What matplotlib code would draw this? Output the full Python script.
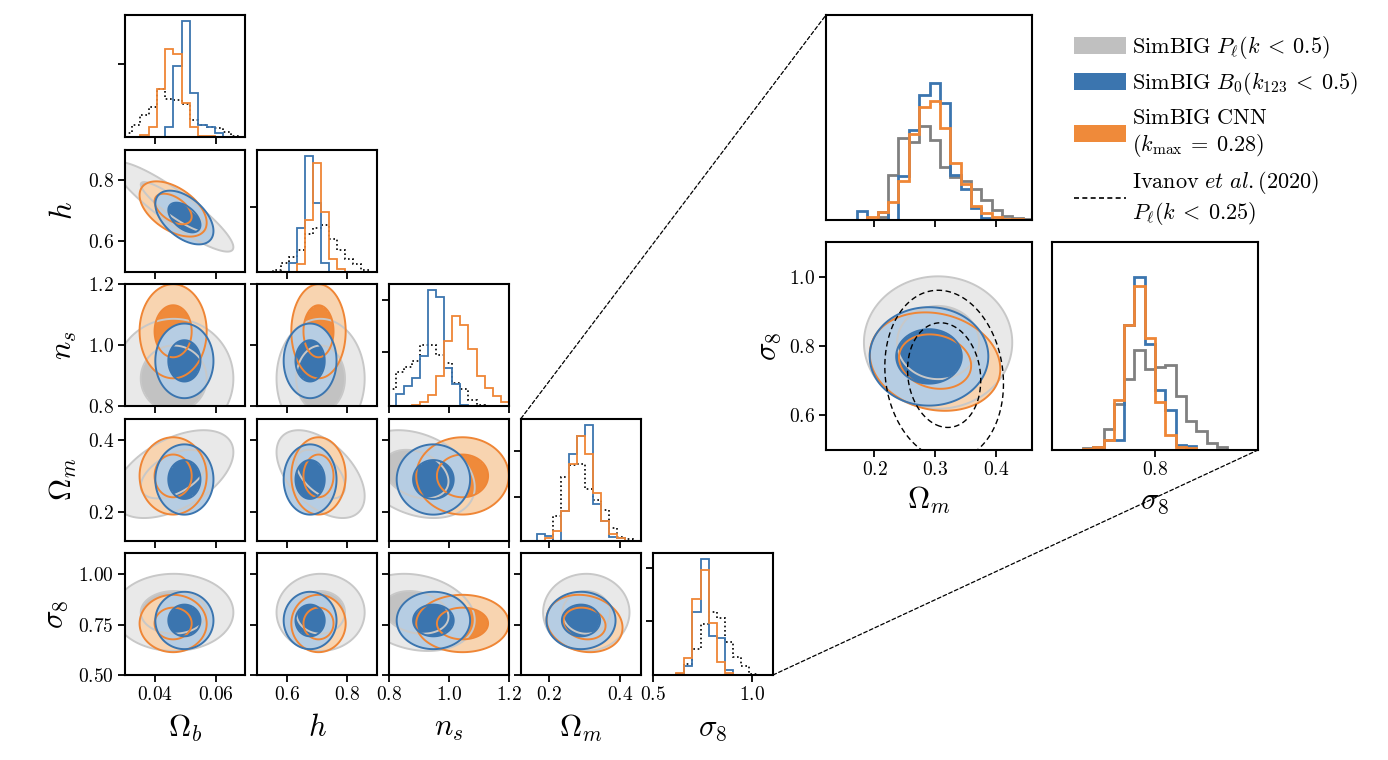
import numpy as np
import matplotlib
matplotlib.use("Agg")
import matplotlib.pyplot as plt
from matplotlib.patches import Patch, ConnectionPatch
from matplotlib.lines import Line2D

plt.rcParams['mathtext.fontset'] = 'cm'
plt.rcParams['font.family'] = ['DejaVu Serif']

# ---------------- data ----------------
param_labels = [r'$\Omega_b$', r'$h$', r'$n_s$', r'$\Omega_m$', r'$\sigma_8$']
param_ranges = [(0.03, 0.0694), (0.5, 0.9), (0.8, 1.2), (0.12, 0.46), (0.5, 1.104)]
x_ticks = [[0.04, 0.06], [0.6, 0.8], [0.8, 1.0, 1.2], [0.2, 0.4], [0.5, 1.0]]
x_ticklabels = [['0.04', '0.06'], ['0.6', '0.8'], ['0.8', '1.0', '1.2'], ['0.2', '0.4'], ['0.5', '1.0']]
y_ticks = [None, [0.6, 0.8], [0.8, 1.0, 1.2], [0.2, 0.4], [0.5, 0.75, 1.0]]
y_ticklabels = [None, ['0.6', '0.8'], ['0.8', '1.0', '1.2'], ['0.2', '0.4'], ['0.50', '0.75', '1.00']]
hist_yticks = [[0.60], [0.53], [0.44, 0.87], [0.36, 0.73], [0.44, 0.88]]

# 2D posterior summaries (mean, width, correlations)
pl_mean = [0.046, 0.712, 0.89, 0.305, 0.81]
pl_sigma = [0.0080, 0.060, 0.080, 0.050, 0.078]
pl_corr = {(0, 1): -0.9, (0, 3): 0.5, (1, 3): -0.5, (2, 3): -0.3, (2, 4): -0.2}
b0_mean = [0.0495, 0.677, 0.948, 0.290, 0.770]
b0_sigma = [0.0039, 0.036, 0.050, 0.040, 0.058]
b0_corr = {(0, 1): -0.5}
cnn_mean = [0.0458, 0.705, 1.045, 0.300, 0.755]
cnn_sigma = [0.0045, 0.037, 0.063, 0.044, 0.058]
cnn_corr = {(0, 1): -0.5, (3, 4): -0.15}
ivanov_mean = [0.315, 0.716]      # (Omega_m, sigma_8)
ivanov_sigma = [0.040, 0.100]
ivanov_corr = -0.1
simbig_levels = [0.60, 0.95]
ivanov_levels = [0.68, 0.95]

# 1D histograms of the corner (heights relative to panel height)
hist_start = [0.0296, 0.552, 0.797, 0.1644, 0.617]
hist_width = [0.00272, 0.0268, 0.0268, 0.0227, 0.0408]
b0_hist = [
    [0, 0, 0, 0, 0, 0.08, 0.58, 0.95, 0.36, 0.10, 0.08, 0.03, 0, 0, 0],
    [0, 0, 0.07, 0.36, 0.95, 0.56, 0.07, 0, 0, 0, 0, 0, 0],
    [0, 0.10, 0.16, 0.23, 0.41, 0.95, 0.89, 0.31, 0.18, 0.01, 0, 0, 0, 0, 0],
    [0.05, 0.04, 0, 0.24, 0.71, 0.86, 0.95, 0.30, 0.16, 0.03, 0.02, 0, 0],
    [0.01, 0.076, 0.52, 0.95, 0.32, 0.30, 0.04, 0, 0, 0, 0, 0],
]
cnn_hist = [
    [0, 0, 0.02, 0.08, 0.39, 0.72, 0.68, 0.28, 0.08, 0.01, 0.01, 0, 0, 0, 0],
    [0, 0, 0, 0.06, 0.42, 0.89, 0.49, 0.10, 0.02, 0, 0, 0, 0],
    [0, 0, 0, 0.005, 0.03, 0.09, 0.25, 0.53, 0.74, 0.66, 0.47, 0.25, 0.15, 0.08, 0.03],
    [0, 0.02, 0.08, 0.24, 0.63, 0.86, 0.71, 0.39, 0.16, 0.05, 0.02, 0, 0],
    [0.02, 0.14, 0.62, 0.86, 0.43, 0.11, 0.02, 0, 0, 0, 0, 0],
]
ivanov_hist = [
    [0.03, 0.10, 0.18, 0.25, 0.39, 0.31, 0.30, 0.27, 0.14, 0.10, 0.08, 0.07, 0.04, 0.01, 0],
    [0.01, 0.07, 0.12, 0.18, 0.31, 0.36, 0.38, 0.27, 0.18, 0.10, 0.06, 0.01, 0],
    [0.14, 0.28, 0.32, 0.37, 0.50, 0.50, 0.42, 0.35, 0.19, 0.14, 0.05, 0.01, 0, 0, 0],
    [0, 0, 0.20, 0.52, 0.62, 0.63, 0.42, 0.33, 0.25, 0.10, 0.03, 0.01, 0],
    [0.005, 0.09, 0.21, 0.42, 0.52, 0.47, 0.27, 0.15, 0.07, 0.01, 0, 0],
]

# zoomed-in histograms
inset_om_start, inset_om_width = 0.137, 0.0171
inset_om_b0 = [0, 0, 0.045, 0, 0.04, 0, 0.215, 0.44, 0.61, 0.67, 0.57, 0.22, 0.15, 0.06, 0.01, 0, 0, 0, 0]
inset_om_cnn = [0, 0.002, 0.002, 0.013, 0.037, 0.09, 0.19, 0.42, 0.55, 0.58, 0.45, 0.28, 0.175, 0.07, 0.034, 0.013, 0.005, 0.005, 0]
inset_om_pl = [0, 0, 0, 0, 0.013, 0.22, 0.40, 0.38, 0.46, 0.39, 0.26, 0.21, 0.19, 0.15, 0.10, 0.05, 0.018, 0.008, 0.005]
inset_s8_start, inset_s8_width = 0.56, 0.03
inset_s8_b0 = [0, 0, 0.013, 0.05, 0.05, 0.60, 0.83, 0.51, 0.29, 0.19, 0.024, 0.02, 0, 0, 0, 0, 0, 0]
inset_s8_cnn = [0, 0.003, 0.016, 0.05, 0.24, 0.60, 0.79, 0.54, 0.23, 0.07, 0.016, 0.008, 0, 0, 0, 0, 0, 0]
inset_s8_pl = [0, 0.008, 0.013, 0.10, 0.22, 0.34, 0.48, 0.39, 0.40, 0.41, 0.26, 0.14, 0.09, 0.035, 0.013, 0, 0, 0]

legend_labels = [
    r'$\mathrm{SimBIG}\ P_\ell(k\:<\:0.5)$',
    r'$\mathrm{SimBIG}\ B_0(k_{123}\:<\:0.5)$',
    r'$\mathrm{SimBIG\ CNN}$' + '\n' + r'$(k_\mathrm{max}\:=\:0.28)$',
    r'$\mathrm{Ivanov}\ \mathit{et\ al.}\mathrm{(2020)}$' + '\n' + r'$P_\ell(k\:<\:0.25)$',
]

# ---------------- style ----------------
C_BLUE = '#3b75af'
C_BLUE_L = '#b6cde3'
C_OR = '#ef8636'
C_OR_IN = '#ef8a3a'
C_OR_L = '#f8d4b0'
C_GR_IN = '#c2c2c2'
C_GR_L = '#e9e9e9'
C_GR_LINE = '#c8c8c8'
C_GR_HIST = '#808080'
TICK_FS = 14

W, H = 1388, 760
fig = plt.figure(figsize=(W / 100, H / 100), dpi=100)


def rect(x, y, w, h):
    return [x / W, 1 - (y + h) / H, w / W, h / H]


def style_axes(ax):
    for s in ax.spines.values():
        s.set_linewidth(1.5)
    ax.tick_params(direction='out', length=5, width=1.3, labelsize=TICK_FS, pad=3)


def d2_grid(mu, sig, rho, xlim, ylim, n=300):
    xs = np.linspace(xlim[0] - 0.6 * (xlim[1] - xlim[0]), xlim[1] + 0.6 * (xlim[1] - xlim[0]), n)
    ys = np.linspace(ylim[0] - 0.6 * (ylim[1] - ylim[0]), ylim[1] + 0.6 * (ylim[1] - ylim[0]), n)
    X, Y = np.meshgrid(xs, ys)
    u = (X - mu[0]) / sig[0]
    v = (Y - mu[1]) / sig[1]
    D2 = (u * u - 2 * rho * u * v + v * v) / (1 - rho * rho)
    return X, Y, D2


def mass_r2(levels):
    return [-2 * np.log(1 - p) for p in levels]


series = [
    (pl_mean, pl_sigma, pl_corr, C_GR_IN, C_GR_L, C_GR_LINE, C_GR_LINE),
    (cnn_mean, cnn_sigma, cnn_corr, C_OR_IN, C_OR_L, C_OR, C_OR),
    (b0_mean, b0_sigma, b0_corr, C_BLUE, C_BLUE_L, C_BLUE, C_BLUE),
]


def draw_2d(ax, i, j, xlim, ylim):
    r2 = mass_r2(simbig_levels)
    grids = []
    for mean, sig, corr, cin, cout, lin_in, lin_out in series:
        rho = corr.get((min(i, j), max(i, j)), 0.0)
        X, Y, D2 = d2_grid([mean[j], mean[i]], [sig[j], sig[i]], rho, xlim, ylim)
        ax.contourf(X, Y, D2, levels=[0, r2[0], r2[1]], colors=[cin, cout])
        grids.append((X, Y, D2, lin_in, lin_out))
    for X, Y, D2, lin_in, lin_out in grids:
        ax.contour(X, Y, D2, levels=r2, colors=[lin_in, lin_out], linewidths=1.4)
    ax.set_xlim(xlim)
    ax.set_ylim(ylim)


def edges_of(start, width, n):
    return start + width * np.arange(n + 1)


col_x = [125, 257, 389, 521, 653]
row_y = [15, 149.5, 284, 418.5, 553]
PW, PH = 120, 122

axes = {}
for i in range(5):
    for j in range(i + 1):
        ax = fig.add_axes(rect(col_x[j], row_y[i], PW, PH))
        style_axes(ax)
        axes[(i, j)] = ax
        if i == j:
            e = edges_of(hist_start[i], hist_width[i], len(b0_hist[i]))
            ax.stairs(ivanov_hist[i], e, color='k', lw=1.2, ls=(0, (1, 1.6)))
            ax.stairs(b0_hist[i], e, color=C_BLUE, lw=1.3)
            ax.stairs(cnn_hist[i], e, color=C_OR, lw=1.3)
            ax.set_xlim(param_ranges[i])
            ax.set_ylim(0, 1)
            ax.set_yticks(hist_yticks[i])
            ax.set_yticklabels([])
        else:
            draw_2d(ax, i, j, param_ranges[j], param_ranges[i])
            ax.set_yticks(y_ticks[i])
            if j == 0:
                ax.set_yticklabels(['$%s$' % t for t in y_ticklabels[i]])
                ax.set_ylabel(param_labels[i], fontsize=22, labelpad=6)
            else:
                ax.set_yticklabels([])
        ax.set_xticks(x_ticks[j])
        if i == 4:
            ax.set_xticklabels(['$%s$' % t for t in x_ticklabels[j]])
            ax.set_xlabel(param_labels[j], fontsize=22, labelpad=6)
        else:
            ax.set_xticklabels([])

fig.align_ylabels([axes[(i, 0)] for i in range(1, 5)])

# ---------------- zoomed panels ----------------
om_lim = (0.12, 0.46)
s8_lim = (0.5, 1.1)

ax_top = fig.add_axes(rect(826, 15, 206, 205))
style_axes(ax_top)
e = edges_of(inset_om_start, inset_om_width, len(inset_om_b0))
ax_top.stairs(inset_om_pl, e, color=C_GR_HIST, lw=2)
ax_top.stairs(inset_om_b0, e, color=C_BLUE, lw=2)
ax_top.stairs(inset_om_cnn, e, color=C_OR, lw=2)
ax_top.set_xlim(om_lim)
ax_top.set_ylim(0, 1)
ax_top.set_xticks([0.2, 0.3, 0.4])
ax_top.set_xticklabels([])
ax_top.set_yticks([])

ax_2d = fig.add_axes(rect(826, 242, 206, 208))
style_axes(ax_2d)
draw_2d(ax_2d, 4, 3, om_lim, s8_lim)
X, Y, D2 = d2_grid(ivanov_mean, ivanov_sigma, ivanov_corr, om_lim, s8_lim)
ax_2d.contour(X, Y, D2, levels=mass_r2(ivanov_levels), colors='k', linewidths=1.0,
              linestyles=[(0, (4, 2.5))])
ax_2d.set_xlim(om_lim)
ax_2d.set_ylim(s8_lim)
ax_2d.set_xticks([0.2, 0.3, 0.4])
ax_2d.set_xticklabels(['$0.2$', '$0.3$', '$0.4$'])
ax_2d.set_yticks([0.6, 0.8, 1.0])
ax_2d.set_yticklabels(['$0.6$', '$0.8$', '$1.0$'])
ax_2d.set_xlabel(r'$\Omega_m$', fontsize=22, labelpad=4)
ax_2d.set_ylabel(r'$\sigma_8$', fontsize=22, labelpad=4)

ax_s8 = fig.add_axes(rect(1052, 242, 206, 208))
style_axes(ax_s8)
e = edges_of(inset_s8_start, inset_s8_width, len(inset_s8_b0))
ax_s8.stairs(inset_s8_pl, e, color=C_GR_HIST, lw=2)
ax_s8.stairs(inset_s8_b0, e, color=C_BLUE, lw=2)
ax_s8.stairs(inset_s8_cnn, e, color=C_OR, lw=2)
ax_s8.set_xlim(s8_lim)
ax_s8.set_ylim(0, 1)
ax_s8.set_xticks([0.8])
ax_s8.set_xticklabels(['$0.8$'])
ax_s8.set_yticks([])
ax_s8.set_xlabel(r'$\sigma_8$', fontsize=22, labelpad=4)

# connecting dashed lines
con1 = ConnectionPatch(xyA=(0, 1), coordsA=axes[(3, 3)].transAxes, xyB=(0, 1), coordsB=ax_top.transAxes,
                       color='k', lw=0.9, ls=(0, (3, 2)))
con2 = ConnectionPatch(xyA=(1, 0), coordsA=axes[(4, 4)].transAxes, xyB=(1, 0), coordsB=ax_s8.transAxes,
                       color='k', lw=0.9, ls=(0, (3, 2)))
fig.add_artist(con1)
fig.add_artist(con2)

# legend
handles = [Patch(facecolor='#c0c0c0', edgecolor='none'),
           Patch(facecolor=C_BLUE, edgecolor='none'),
           Patch(facecolor='#ef8a3a', edgecolor='none'),
           Line2D([], [], color='k', lw=1.2, ls=(0, (3, 2)))]
fig.legend(handles, legend_labels, loc='upper left', bbox_to_anchor=(1074 / W, 1 - 34 / H),
           frameon=False, fontsize=16, handlelength=2.35, handleheight=0.78,
           handletextpad=0.25, labelspacing=0.42, borderaxespad=0, borderpad=0)

fig.savefig('out.png', dpi=100)
